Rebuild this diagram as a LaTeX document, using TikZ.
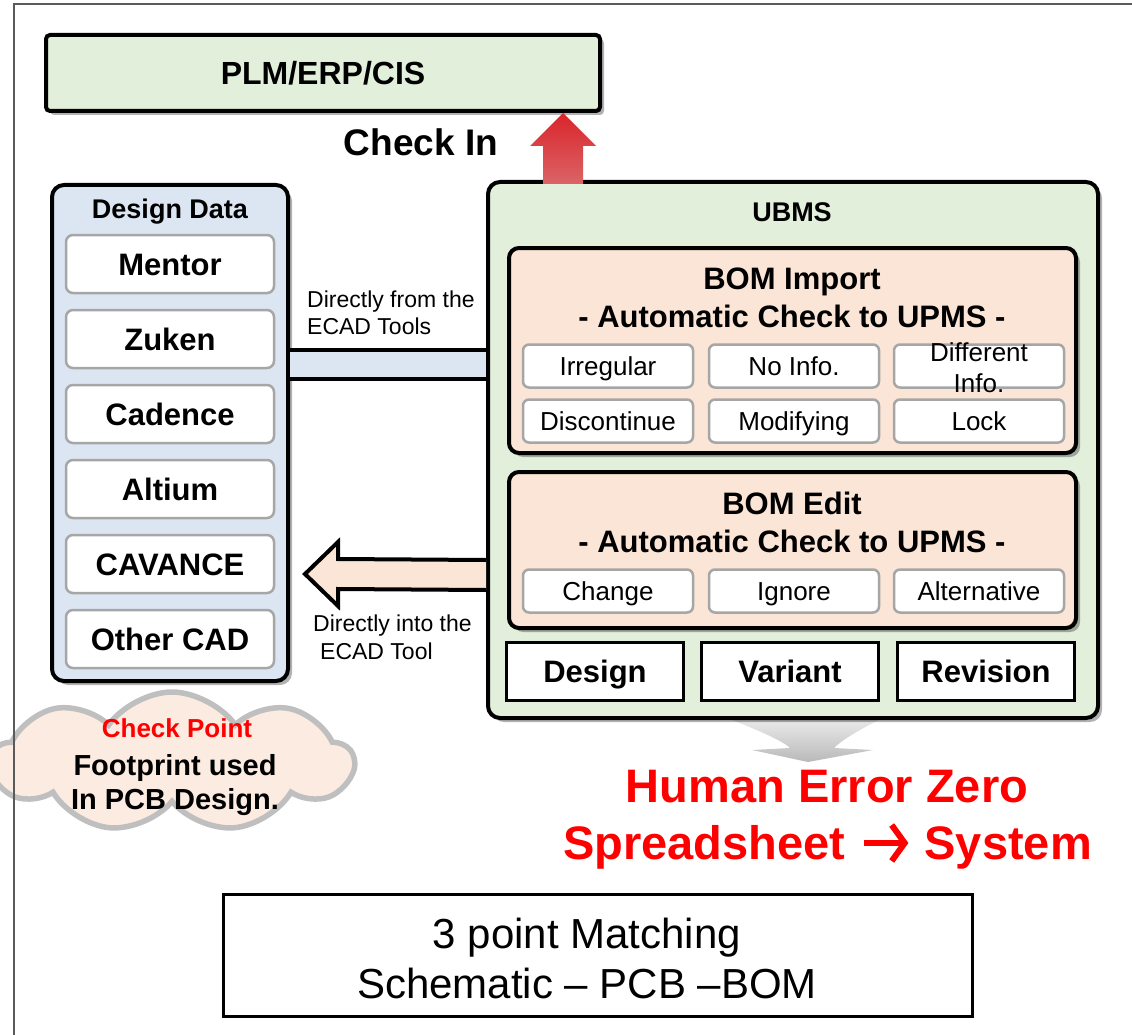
\documentclass[tikz,border=0pt]{standalone}
\usepackage{fontspec}
\setmainfont{Liberation Sans}
\usetikzlibrary{shapes.symbols,shadows,calc,arrows.meta}
\definecolor{pgreen}{HTML}{E2EFDA}
\definecolor{pblue}{HTML}{DCE6F2}
\definecolor{ppeach}{HTML}{FBE5D6}
\definecolor{cgray}{HTML}{A6A6A6}
\definecolor{cloudfill}{HTML}{FBEBE0}
\definecolor{cloudline}{HTML}{BFBFBF}
\definecolor{framec}{HTML}{5A5A5A}
\definecolor{arrtop}{HTML}{D9252B}
\definecolor{arrbot}{HTML}{DA6466}
\definecolor{hred}{HTML}{FF0000}
\newcommand{\fsz}[2]{\fontsize{#1}{#2}\selectfont}
\pgfdeclarelayer{bg}
\pgfsetlayers{bg,main}
\begin{document}
\begin{tikzpicture}[x=1pt,y=-1pt,
 shadowed/.style={drop shadow={shadow xshift=4pt,shadow yshift=-4pt,fill=black,opacity=0.3}},
 capc/.style={text height=#1,text depth=0pt},
 panel/.style={draw=black,line width=4pt,rounded corners=12pt,inner sep=0pt,shadowed},
 itembox/.style={draw=cgray,line width=2.5pt,rounded corners=7pt,fill=white,inner sep=0pt,minimum width=208pt,minimum height=58pt,font=\fsz{31}{36}\bfseries,capc=22.3pt},
 cell/.style={draw=cgray,line width=2.5pt,rounded corners=6pt,fill=white,inner sep=0pt,minimum width=170pt,minimum height=43pt,font=\fsz{26}{31},capc=18.7pt},
 levelbox/.style={draw=black,line width=3pt,fill=white,inner sep=0pt,minimum width=177pt,minimum height=58pt,font=\fsz{31}{37}\bfseries,capc=22.3pt},
 bomtitle/.style={inner sep=0pt,align=center,font=\fsz{31}{38}\bfseries},
 conlabel/.style={inner sep=0pt,anchor=west,align=left,font=\fsz{23}{27}},
 plain/.style={inner sep=0pt},
]
\useasboundingbox (0,0) rectangle (1132,1035);

% PLM
\node[draw=black,line width=4pt,rounded corners=4pt,fill=pgreen,minimum width=554pt,minimum height=76pt,inner sep=0pt,shadowed,font=\fsz{32}{38}\bfseries,capc=23pt] (plm) at (323,73) {PLM/ERP/CIS};

% Design Data panel
\node[panel,fill=pblue,minimum width=236pt,minimum height=496pt] (dd) at (170,433) {};
\node[plain,font=\fsz{27}{32}\bfseries,capc=19.4pt] (ddt) at (170,209) {Design Data};
\node[itembox] (mentor)  at (170,264) {Mentor};
\node[itembox] (zuken)   at (170,339) {Zuken};
\node[itembox] (cadence) at (170,414) {Cadence};
\node[itembox] (altium)  at (170,489) {Altium};
\node[itembox] (cavance) at (170,564) {CAVANCE};
\node[itembox] (other)   at (170,639) {Other CAD};

% UBMS panel
\node[panel,fill=pgreen,minimum width=610pt,minimum height=536pt] (ubms) at (793,450) {};
\node[plain,font=\fsz{27}{32}\bfseries,capc=19.4pt] (ubmst) at (792,212) {UBMS};

% BOM Import
\node[draw=black,line width=4pt,rounded corners=10pt,fill=ppeach,inner sep=0pt,minimum width=567pt,minimum height=205pt,shadowed] (imp) at (792.5,350.5) {};
\node[bomtitle] (impt) at (792,298) {BOM Import\\- Automatic Check to UPMS -};
\node[cell] (irr)  at (608,366) {Irregular};
\node[cell] (noi)  at (794,366) {No Info.};
\node[cell] (dif)  at (979,366) {};
\node[plain,align=center,font=\fsz{26}{31}] (dift) at (979,368) {Different\\Info.};
\node[cell] (dis)  at (608,421) {Discontinue};
\node[cell] (mod)  at (794,421) {Modifying};
\node[cell] (lock) at (979,421) {Lock};

% BOM Edit
\node[draw=black,line width=4pt,rounded corners=10pt,fill=ppeach,inner sep=0pt,minimum width=567pt,minimum height=156pt,shadowed] (edit) at (792.5,550) {};
\node[bomtitle] (editt) at (792,522) {BOM Edit\\- Automatic Check to UPMS -};
\node[cell] (chg) at (608,591) {Change};
\node[cell] (ign) at (794,591) {Ignore};
\node[cell] (alt) at (979,591) {Alternative};

% Levels
\node[levelbox] (design)   at (595,671.5) {Design};
\node[levelbox] (variant)  at (790,671.5) {Variant};
\node[levelbox] (revision) at (986,671.5) {Revision};

% gray arrow below UBMS
\begin{pgfonlayer}{bg}
\coordinate (gtip) at (808,762);
\shade[top color=gray!10,bottom color=gray!55]
  ($(gtip)+(-96,-50)$) .. controls ($(gtip)+(-55,-34)$) and ($(gtip)+(-26,-22)$) .. ($(gtip)+(-18,-14)$)
  -- ($(gtip)+(-56,-12)$) -- (gtip) -- ($(gtip)+(65,-12)$) -- ($(gtip)+(26,-14)$)
  .. controls ($(gtip)+(36,-24)$) and ($(gtip)+(58,-36)$) .. ($(gtip)+(87,-50)$) -- cycle;
\end{pgfonlayer}

% connector from ECAD tools (band)
\fill[pblue] (dd.east |- 0,351) rectangle (ubms.west |- 0,378);
\draw[line width=4pt] (dd.east |- 0,350) -- (ubms.west |- 0,350);
\draw[line width=4pt] (dd.east |- 0,379) -- (ubms.west |- 0,379);
\node[conlabel] (lab1) at (307,313) {Directly from the\\ECAD Tools};

% arrow into the ECAD tool
\coordinate (arS) at (ubms.west |- 0,575);
\coordinate (arT) at ($(dd.east |- 0,574)+(15,0)$);
\fill[ppeach] ($(arS)+(0,-15)$) -- ($(arT)+(33,-15)$) -- ($(arT)+(33,-32)$) -- (arT) -- ($(arT)+(33,32)$) -- ($(arT)+(33,15)$) -- ($(arS)+(0,15)$) -- cycle;
\draw[line width=4pt,line join=miter] ($(arS)+(0,-15)$) -- ($(arT)+(33,-15)$) -- ($(arT)+(33,-32)$) -- (arT) -- ($(arT)+(33,32)$) -- ($(arT)+(33,15)$) -- ($(arS)+(0,15)$);
\node[conlabel,font=\fsz{23}{28}] (lab2) at (313,637) {Directly into the\\\hspace*{7pt}ECAD Tool};

% Check In arrow
\coordinate (ciB) at (563,184);
\coordinate (ciT) at (ciB |- plm.south);
\shade[top color=arrtop,bottom color=arrbot]
  ($(ciB)+(-20,0)$) -- ($(ciT)+(-20,33)$) -- ($(ciT)+(-33,33)$) -- (ciT) -- ($(ciT)+(33,33)$) -- ($(ciT)+(20,33)$) -- ($(ciB)+(20,0)$) -- cycle;
\node[plain,font=\fsz{37}{44}\bfseries,capc=26.6pt] (checkin) at (421,142) {Check In};

% cloud
\node[cloud,cloud puffs=9,cloud puff arc=110,cloud ignores aspect,minimum width=362pt,minimum height=140pt,draw=cloudline,line width=5.5pt,fill=cloudfill,inner sep=0pt] (cloud) at (172,762) {};
\node[plain,font=\fsz{26}{31}\bfseries,text=hred,capc=18.7pt] (cp) at (177,728) {Check Point};
\node[plain,align=center,font=\fsz{29}{34}\bfseries] (fp) at (175,785) {Footprint used\\In PCB Design.};

% red statements
\node[plain,anchor=base,font=\fsz{47}{56}\bfseries,text=hred] (hez) at (827,802) {Human Error Zero};
\node[plain,anchor=base west,font=\fsz{47}{56}\bfseries,text=hred] (ss) at (563,859) {Spreadsheet};
\node[plain,anchor=base east,font=\fsz{47}{56}\bfseries,text=hred] (sy) at (1092,859) {System};
\draw[hred,line width=6pt,-{Straight Barb[length=13pt,width=36pt]}] ($(ss.base east)+(18,-16)$) -- ($(sy.base west)+(-16,-16)$);

% bottom box
\node[draw=black,line width=3pt,fill=white,minimum width=749pt,minimum height=122pt,inner sep=0pt] (match) at (598,955.5) {};
\node[plain,align=center,font=\fsz{42}{50}] (matcht) at (587,958) {3 point Matching\\Schematic -- PCB --BOM};

% frame
\draw[framec,line width=2pt] (14,1035) -- (14,4) -- (1132,4);
\end{tikzpicture}
\end{document}
